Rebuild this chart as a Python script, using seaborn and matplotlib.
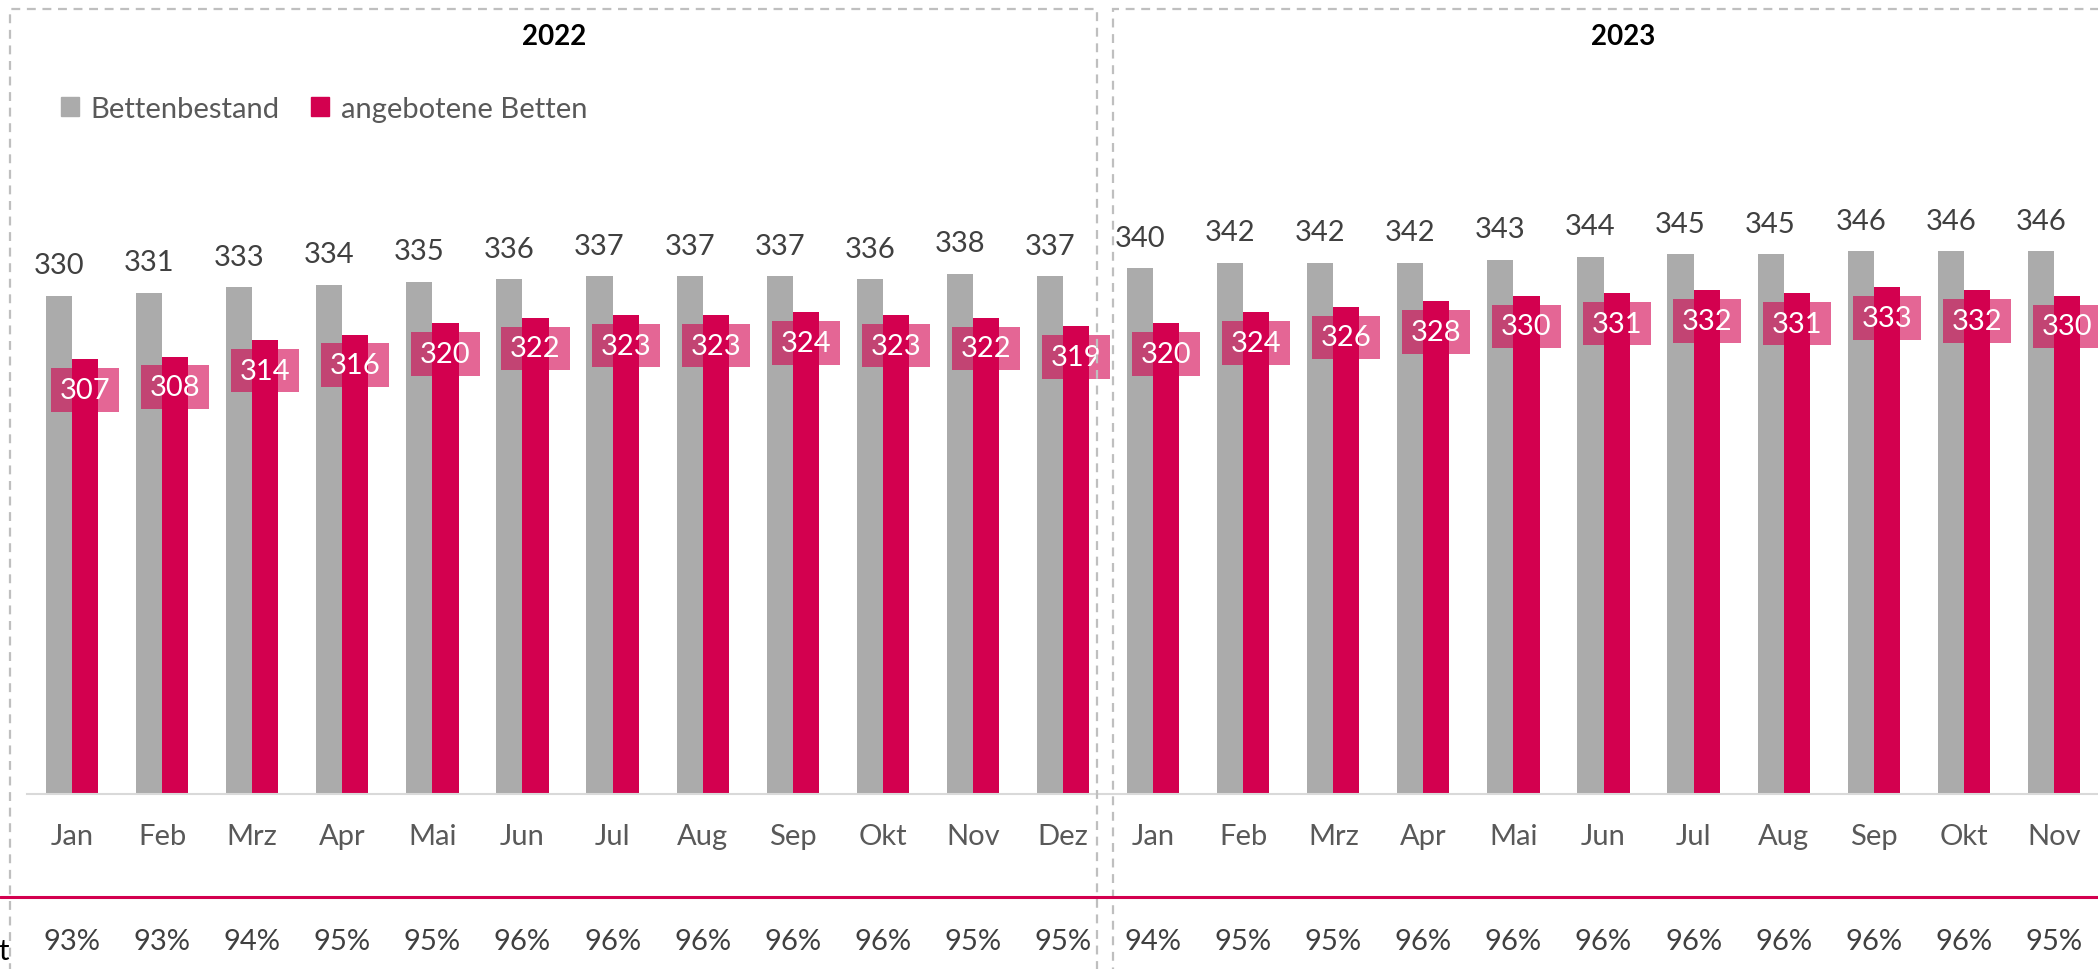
import matplotlib
matplotlib.use("Agg")
import matplotlib.pyplot as plt
import matplotlib.transforms as mtransforms
from matplotlib.patches import Rectangle, Patch
from matplotlib.lines import Line2D
import seaborn as sns
import pandas as pd

# Daten
months_2022 = ["Jan", "Feb", "Mrz", "Apr", "Mai", "Jun", "Jul", "Aug", "Sep", "Okt", "Nov", "Dez"]
months_2023 = ["Jan", "Feb", "Mrz", "Apr", "Mai", "Jun", "Jul", "Aug", "Sep", "Okt", "Nov"]
bestand_2022 = [330, 331, 333, 334, 335, 336, 337, 337, 337, 336, 338, 337]
bestand_2023 = [340, 342, 342, 342, 343, 344, 345, 345, 346, 346, 346]
angeboten_2022 = [307, 308, 314, 316, 320, 322, 323, 323, 324, 323, 322, 319]
angeboten_2023 = [320, 324, 326, 328, 330, 331, 332, 331, 333, 332, 330]
quote_2022 = [93, 93, 94, 95, 95, 96, 96, 96, 96, 96, 95, 95]
quote_2023 = [94, 95, 95, 96, 96, 96, 96, 96, 96, 96, 95]

GRAY = "#ABABAB"
PINK = "#D3004F"
FS = 21

months = months_2022 + months_2023
keys = [f"2022 {m}" for m in months_2022] + [f"2023 {m}" for m in months_2023]
quote = quote_2022 + quote_2023

df = pd.DataFrame({
    "monat": keys * 2,
    "serie": ["Bettenbestand"] * len(keys) + ["angebotene Betten"] * len(keys),
    "betten": bestand_2022 + bestand_2023 + angeboten_2022 + angeboten_2023,
})

sns.set_style("white")
plt.rcParams["font.family"] = ["Lato", "DejaVu Sans"]

W, H = 2098, 970
fig = plt.figure(figsize=(W / 100, H / 100), dpi=100)
ax_left, ax_right = 27 / W, 2099 / W
ax_bottom, ax_top = 1 - 795 / H, 1 - 103 / H
ax = fig.add_axes([ax_left, ax_bottom, ax_right - ax_left, ax_top - ax_bottom])

sns.barplot(data=df, x="monat", y="betten", hue="serie", order=keys,
            hue_order=["Bettenbestand", "angebotene Betten"],
            palette={"Bettenbestand": GRAY, "angebotene Betten": PINK},
            saturation=1, width=0.58, linewidth=0, ax=ax)

ax.set_ylim(150, 400)
ax.set_xlim(-0.5, len(keys) - 0.5)
ax.set_xlabel("")
ax.set_ylabel("")
ax.set_yticks([])
for s in ["left", "top", "right"]:
    ax.spines[s].set_visible(False)
ax.spines["bottom"].set_color("#D9D9D9")
ax.spines["bottom"].set_linewidth(1.5)

ax.set_xticks(range(len(keys)))
ax.set_xticklabels(months, fontsize=FS, color="#595959")
ax.set_xticks([i - 0.5 for i in range(len(keys) + 1)], minor=True)
ax.tick_params(axis="x", which="major", length=0, pad=21)
ax.tick_params(axis="x", which="minor", length=7.5, width=1.5, color="#D9D9D9")

# Werte ueber den grauen Balken
for bar in ax.containers[0]:
    ax.annotate(f"{bar.get_height():.0f}",
                (bar.get_x() + bar.get_width() / 2, bar.get_height()),
                xytext=(0, 22), textcoords="offset points",
                ha="center", va="center", fontsize=FS, color="#404040")

# Werte in den pinken Balken (halbtransparente Box)
for bar in ax.containers[1]:
    ax.annotate(f"{bar.get_height():.0f}",
                (bar.get_x() + bar.get_width() / 2, bar.get_height()),
                xytext=(0, -22), textcoords="offset points",
                ha="center", va="center", fontsize=FS, color="white",
                bbox=dict(boxstyle="square,pad=0.3", fc=PINK, ec="none", alpha=0.6))

ax.legend_.remove()
handles = [Patch(color=GRAY), Patch(color=PINK)]
leg = fig.legend(handles, ["Bettenbestand", "angebotene Betten"],
                 loc="center left", bbox_to_anchor=(61 / W, 1 - 110 / H),
                 ncol=2, frameon=False, fontsize=FS, borderaxespad=0, borderpad=0,
                 handlelength=0.6, handleheight=0.6, handletextpad=0.4,
                 columnspacing=1.1)
for t in leg.get_texts():
    t.set_color("#595959")

# Jahres-Titel
fig.text(554 / W, 1 - 37 / H, "2022", ha="center", va="center",
         fontsize=20, fontweight="bold", color="black")
fig.text(1623 / W, 1 - 37 / H, "2023", ha="center", va="center",
         fontsize=20, fontweight="bold", color="black")

# Trennlinie und Auslastungsquote
fig.add_artist(Line2D([0, 1], [1 - 898 / H, 1 - 898 / H], color=PINK, lw=2.2,
                      transform=fig.transFigure))
trans = mtransforms.blended_transform_factory(ax.transData, fig.transFigure)
for i, q in enumerate(quote):
    ax.text(i, 1 - 942 / H, f"{q}%", transform=trans, ha="center", va="center",
            fontsize=FS, color="#404040", clip_on=False)
fig.text(9 / W, 1 - 952 / H, "t", ha="right", va="center", fontsize=FS, color="black")

# gestrichelte Rahmen je Jahr
for x0, x1 in [(10, 1097), (1113, 2120)]:
    fig.add_artist(Rectangle((x0 / W, -0.05), (x1 - x0) / W, 1.05 - 10 / H,
                             transform=fig.transFigure, fill=False,
                             ec="#BFBFBF", lw=1.6, ls=(0, (4, 3))))

fig.savefig("out.png", dpi=100)
